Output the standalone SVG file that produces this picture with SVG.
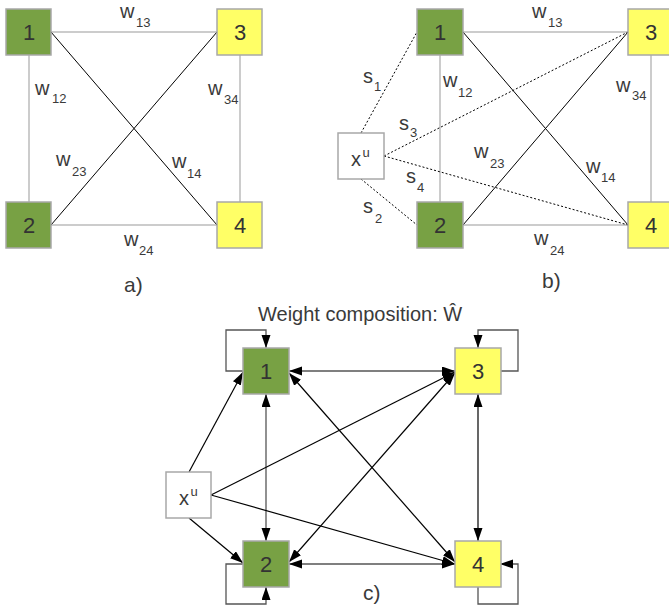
<svg xmlns="http://www.w3.org/2000/svg" width="669" height="610" viewBox="0 0 669 610">
<style>
.g{fill:#78a144;stroke:#a8a8a8;stroke-width:1.5}
.y{fill:#ffff66;stroke:#a8a8a8;stroke-width:1.5}
.wb{fill:#fff;stroke:#a8a8a8;stroke-width:1.5}
.d{font-family:"Liberation Sans",Arial,sans-serif;font-size:22px;fill:#333;text-anchor:middle}
.t{font-family:"Liberation Sans",Arial,sans-serif;font-size:20px;fill:#3a3a3a}
.s{font-size:13px}
.lg{stroke:#999;stroke-width:1;fill:none}
.lk{stroke:#000;stroke-width:1;fill:none}
.dot{stroke:#000;stroke-width:1;stroke-dasharray:2,2;fill:none}
.cg{stroke:#555;stroke-width:1.3;fill:none}
.ck{stroke:#000;stroke-width:1.2;fill:none}
.e{marker-end:url(#ah)}
.b{marker-start:url(#ah);marker-end:url(#ah)}
</style>
<defs>
<marker id="ah" markerUnits="userSpaceOnUse" markerWidth="14" markerHeight="10" refX="13" refY="4.5" orient="auto-start-reverse">
<path d="M0,0 L13,4.5 L0,9 z" fill="#000"/>
</marker>
</defs>

<g id="connectors">
<!-- panel a -->
<line class="lg" x1="51" y1="32" x2="217" y2="32"/>
<line class="lg" x1="29" y1="55" x2="29" y2="202"/>
<line class="lg" x1="240" y1="55" x2="240" y2="202"/>
<line class="lg" x1="51" y1="225" x2="217" y2="225"/>
<line class="lk" x1="51" y1="32" x2="217" y2="225"/>
<line class="lk" x1="51" y1="225" x2="217" y2="32"/>
<!-- panel b -->
<line class="lg" x1="463" y1="32" x2="628" y2="32"/>
<line class="lg" x1="440" y1="55" x2="440" y2="202"/>
<line class="lg" x1="651" y1="55" x2="651" y2="202"/>
<line class="lg" x1="463" y1="225" x2="628" y2="225"/>
<line class="lk" x1="463" y1="32" x2="628" y2="225"/>
<line class="lk" x1="463" y1="225" x2="628" y2="32"/>
<line class="dot" x1="361" y1="133" x2="417" y2="32"/>
<line class="dot" x1="384" y1="156" x2="628" y2="32"/>
<line class="dot" x1="384" y1="156" x2="628" y2="225"/>
<line class="dot" x1="361" y1="179" x2="417" y2="225"/>
<!-- panel c -->
<path class="cg e" d="M243,371 H226 V330 H266 V348"/>
<path class="cg e" d="M500,371 H518 V330 H478 V348"/>
<path class="cg e" d="M478,587 V604 H518 V564 H500"/>
<path class="cg e" d="M243,564 H226 V604 H266 V587"/>
<line class="cg b" x1="289" y1="371" x2="455" y2="371"/>
<line class="cg b" x1="289" y1="564" x2="455" y2="564"/>
<line class="cg b" x1="266" y1="394" x2="266" y2="541"/>
<line class="ck b" x1="478" y1="394" x2="478" y2="541"/>
<line class="ck b" x1="289" y1="373" x2="455" y2="562"/>
<line class="ck b" x1="289" y1="562" x2="455" y2="373"/>
<line class="ck e" x1="189" y1="472" x2="243" y2="372"/>
<line class="ck e" x1="189" y1="518" x2="243" y2="563"/>
<line class="ck e" x1="211" y1="495" x2="455" y2="372"/>
<line class="ck e" x1="211" y1="495" x2="455" y2="564"/>
</g>

<g id="a-node1"><rect class="g" x="6" y="9" width="45" height="46"/><text class="d" x="29" y="40">1</text></g>
<g id="a-node3"><rect class="y" x="217" y="9" width="45" height="46"/><text class="d" x="240" y="40">3</text></g>
<g id="a-node2"><rect class="g" x="6" y="202" width="45" height="46"/><text class="d" x="29" y="233">2</text></g>
<g id="a-node4"><rect class="y" x="217" y="202" width="45" height="46"/><text class="d" x="240" y="233">4</text></g>

<g id="b-node1"><rect class="g" x="417" y="9" width="46" height="46"/><text class="d" x="440" y="40">1</text></g>
<g id="b-node3"><rect class="y" x="628" y="9" width="46" height="46"/><text class="d" x="651" y="40">3</text></g>
<g id="b-node2"><rect class="g" x="417" y="202" width="46" height="46"/><text class="d" x="440" y="233">2</text></g>
<g id="b-node4"><rect class="y" x="628" y="202" width="46" height="46"/><text class="d" x="651" y="233">4</text></g>
<g id="b-xu"><rect class="wb" x="338" y="133" width="46" height="46"/><text class="t" x="351" y="166">x<tspan class="s" x="362.5" y="157">u</tspan></text></g>

<g id="c-node1"><rect class="g" x="243" y="348" width="46" height="46"/><text class="d" x="266" y="379">1</text></g>
<g id="c-node3"><rect class="y" x="455" y="348" width="46" height="46"/><text class="d" x="478" y="379">3</text></g>
<g id="c-node2"><rect class="g" x="243" y="541" width="46" height="46"/><text class="d" x="266" y="572">2</text></g>
<g id="c-node4"><rect class="y" x="455" y="541" width="46" height="46"/><text class="d" x="478" y="572">4</text></g>
<g id="c-xu"><rect class="wb" x="166" y="472" width="45" height="46"/><text class="t" x="179" y="505">x<tspan class="s" x="190.5" y="496">u</tspan></text></g>

<g id="labels">
<text class="t" x="120" y="18">w<tspan class="s" x="136" y="27">13</tspan></text>
<text class="t" x="35" y="95">w<tspan class="s" x="52" y="103">12</tspan></text>
<text class="t" x="208" y="95">w<tspan class="s" x="224" y="104">34</tspan></text>
<text class="t" x="56" y="166">w<tspan class="s" x="72" y="176">23</tspan></text>
<text class="t" x="172" y="168">w<tspan class="s" x="187" y="178">14</tspan></text>
<text class="t" x="124" y="246">w<tspan class="s" x="139" y="255">24</tspan></text>
<text class="t" x="124" y="292" style="font-size:21px">a)</text>

<text class="t" x="532" y="18">w<tspan class="s" x="548" y="27">13</tspan></text>
<text class="t" x="443" y="87">w<tspan class="s" x="458" y="97">12</tspan></text>
<text class="t" x="616" y="92">w<tspan class="s" x="632" y="100">34</tspan></text>
<text class="t" x="474" y="158">w<tspan class="s" x="490" y="168">23</tspan></text>
<text class="t" x="586" y="173">w<tspan class="s" x="601" y="182">14</tspan></text>
<text class="t" x="534" y="245">w<tspan class="s" x="550" y="255">24</tspan></text>
<text class="t" x="363" y="83">s<tspan class="s" x="374" y="91">1</tspan></text>
<text class="t" x="399" y="130">s<tspan class="s" x="410" y="137">3</tspan></text>
<text class="t" x="406" y="183">s<tspan class="s" x="417" y="192">4</tspan></text>
<text class="t" x="363" y="213">s<tspan class="s" x="375" y="223">2</tspan></text>
<text class="t" x="542" y="288" style="font-size:21px">b)</text>

<text class="t" x="258" y="321">Weight composition: Ŵ</text>
<text class="t" x="363" y="600" style="font-size:21px">c)</text>
</g>
</svg>
